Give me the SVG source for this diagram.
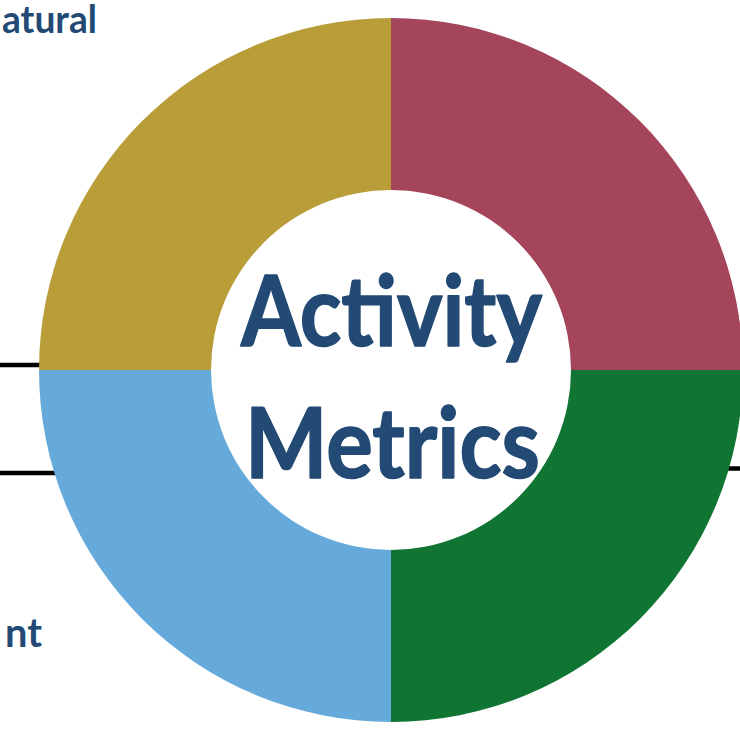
<svg xmlns="http://www.w3.org/2000/svg" width="740" height="729" viewBox="0 0 740 729">
<style>
.lbl{font-family:Lato,"Noto Sans","Liberation Sans",sans-serif;font-weight:bold;fill:#234A74}
.big{stroke:#234A74;stroke-width:1.6;stroke-linejoin:round}
.conn{stroke:#000;stroke-width:4.5;fill:none}
</style>
<rect width="740" height="729" fill="#fff"/>
<g id="connectors">
<line class="conn" x1="0" y1="365" x2="70" y2="365"/>
<line class="conn" x1="0" y1="473" x2="80" y2="473"/>
<line class="conn" x1="690" y1="468.5" x2="740" y2="468.5"/>
</g>
<g id="q-maroon"><path d="M391,18 A352,352 0 0 1 743,370 L571,370 A180,180 0 0 0 391,190 Z" fill="#A5455C"/></g>
<g id="q-green"><path d="M743,370 A352,352 0 0 1 391,722 L391,550 A180,180 0 0 0 571,370 Z" fill="#107433"/></g>
<g id="q-blue"><path d="M391,722 A352,352 0 0 1 39,370 L211,370 A180,180 0 0 0 391,550 Z" fill="#66AADB"/></g>
<g id="q-gold"><path d="M39,370 A352,352 0 0 1 391,18 L391,190 A180,180 0 0 0 211,370 Z" fill="#B99D38"/></g>
<g id="center">
<text class="lbl big" x="241" y="346" font-size="98" textLength="301" lengthAdjust="spacingAndGlyphs">Activity</text>
<text class="lbl big" x="245" y="478" font-size="98" textLength="295" lengthAdjust="spacingAndGlyphs">Metrics</text>
</g>
<g id="label-top"><text class="lbl" x="2" y="33" font-size="39" textLength="95" lengthAdjust="spacingAndGlyphs">atural</text></g>
<g id="label-bottom"><text class="lbl" x="5" y="647" font-size="40" textLength="37" lengthAdjust="spacingAndGlyphs">nt</text></g>
</svg>
